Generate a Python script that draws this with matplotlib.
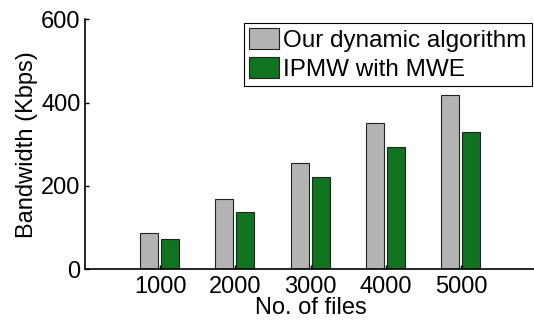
import matplotlib.pyplot as plt
import numpy as np

files = ["1000", "2000", "3000", "4000", "5000"]
ours = [86, 168, 254, 350, 419]
ipmw = [73, 136, 222, 294, 330]

plt.rcParams['font.family'] = ['Liberation Sans', 'DejaVu Sans']

fig = plt.figure(figsize=(5.34, 3.2), dpi=100)
ax = fig.add_axes([0.159, 0.159, 0.845, 0.781])

x = np.arange(1, len(files) + 1)
w = 0.24
ax.bar(x - 0.145, ours, w, color="#b3b3b3", edgecolor="#222222", linewidth=0.8,
       label="Our dynamic algorithm")
ax.bar(x + 0.135, ipmw, w, color="#0f7320", edgecolor="#222222", linewidth=0.8,
       label="IPMW with MWE")

ax.set_xlim(0, 6)
ax.set_ylim(0, 600)
ax.set_xticks(x)
ax.set_xticklabels(files)
ax.set_yticks([0, 200, 400, 600])
ax.tick_params(direction="in", labelsize=17, length=3, width=1, pad=5)
ax.tick_params(axis="y", pad=3)
ax.spines["top"].set_visible(False)
ax.spines["right"].set_visible(False)
ax.spines["left"].set_linewidth(1.2)
ax.spines["bottom"].set_linewidth(1.2)

ax.set_xlabel("No. of files", fontsize=17, labelpad=-0.5)
ax.set_ylabel("Bandwidth (Kbps)", fontsize=17, labelpad=2)

leg = ax.legend(loc="upper right", bbox_to_anchor=(0.99, 0.985), fontsize=17.5,
                fancybox=False, edgecolor="black", framealpha=1,
                handlelength=1.25, handleheight=0.95, handletextpad=0.15,
                labelspacing=0.2, borderpad=0.22, borderaxespad=0)
leg.get_frame().set_linewidth(0.8)

fig.savefig("out.png", dpi=100)
